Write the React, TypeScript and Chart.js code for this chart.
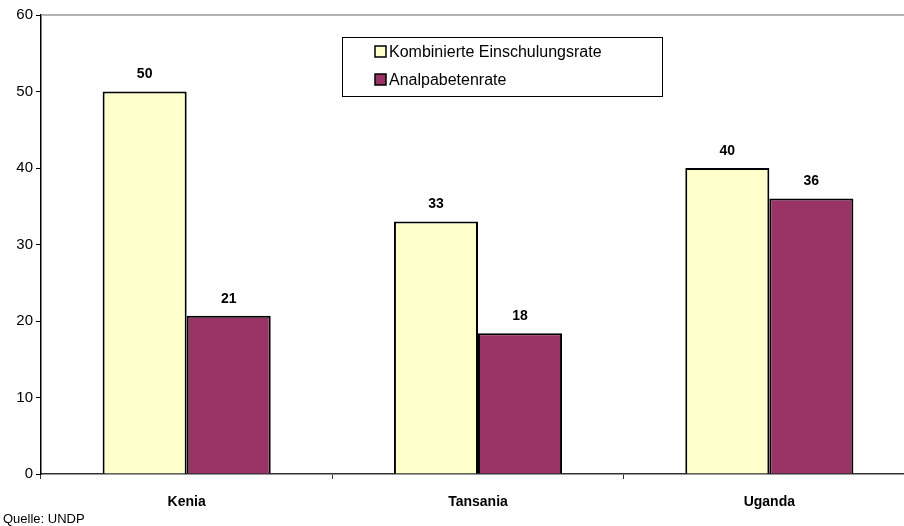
import React, { useEffect, useRef } from "react";
import { Chart, registerables } from "chart.js";

Chart.register(...registerables);

const categories = ["Kenia", "Tansania", "Uganda"];
const seriesNames = ["Kombinierte Einschulungsrate", "Analpabetenrate"];
const enrolment = [50, 33, 40];
const illiteracy = [20.7, 18.4, 36];
const seriesColors = ["#FFFFCC", "#993366"];
const yTicks = [0, 10, 20, 30, 40, 50, 60];
const sourceNote = "Quelle: UNDP";

const FONT = "'Liberation Sans', Arial, sans-serif";

const overlayPlugin = {
  id: "overlay",
  afterDraw(chart: any) {
    const ctx = chart.ctx;
    const ca = chart.chartArea;
    ctx.save();
    // top border line
    ctx.strokeStyle = "#999999";
    ctx.lineWidth = 1.5;
    ctx.beginPath();
    ctx.moveTo(ca.left, ca.top);
    ctx.lineTo(chart.width, ca.top);
    ctx.stroke();

    // data labels
    ctx.fillStyle = "#000";
    ctx.font = `bold 14px ${FONT}`;
    ctx.textAlign = "center";
    ctx.textBaseline = "middle";
    chart.data.datasets.forEach((ds: any, di: number) => {
      const meta = chart.getDatasetMeta(di);
      meta.data.forEach((el: any, i: number) => {
        ctx.fillText(String(Math.round(ds.data[i])), el.x, el.y - 17);
      });
    });

    // legend box
    ctx.fillStyle = "#fff";
    ctx.fillRect(342.5, 37.5, 320, 59);
    ctx.strokeStyle = "#000";
    ctx.lineWidth = 1;
    ctx.strokeRect(342.5, 37.5, 320, 59);
    chart.data.datasets.forEach((ds: any, di: number) => {
      const cy = 52 + di * 28;
      ctx.fillStyle = ds.backgroundColor;
      ctx.fillRect(375, cy - 6, 11, 11);
      ctx.strokeStyle = "#000";
      ctx.lineWidth = 1.5;
      ctx.strokeRect(375, cy - 6, 11, 11);
      ctx.fillStyle = "#000";
      ctx.font = `16px ${FONT}`;
      ctx.textAlign = "left";
      ctx.textBaseline = "middle";
      ctx.fillText(ds.label, 389, cy + 1);
    });

    // source note
    ctx.font = `13px ${FONT}`;
    ctx.textAlign = "left";
    ctx.textBaseline = "alphabetic";
    ctx.fillStyle = "#000";
    ctx.fillText(sourceNote, 3, 523);
    ctx.restore();
  },
};

export default function App() {
  const ref = useRef<HTMLCanvasElement>(null);
  useEffect(() => {
    if (!ref.current) return;
    const chart = new Chart(ref.current, {
      type: "bar",
      data: {
        labels: categories,
        datasets: [
          {
            label: seriesNames[0],
            data: enrolment,
            backgroundColor: seriesColors[0],
            borderColor: "#000",
            borderWidth: 2,
            categoryPercentage: 0.577,
            barPercentage: 1,
          },
          {
            label: seriesNames[1],
            data: illiteracy,
            backgroundColor: seriesColors[1],
            borderColor: "#000",
            borderWidth: 2,
            categoryPercentage: 0.577,
            barPercentage: 1,
          },
        ],
      },
      options: {
        responsive: false,
        animation: false,
        devicePixelRatio: 1,
        layout: { padding: { top: 15, right: 15, left: 0, bottom: 0 } },
        plugins: {
          legend: { display: false },
          tooltip: { enabled: false },
          title: { display: false },
        },
        scales: {
          x: {
            type: "category",
            grid: {
              display: true,
              drawOnChartArea: false,
              tickLength: 5,
              color: "#333",
              offset: true,
            },
            border: { color: "#333", width: 1.5 },
            ticks: {
              color: "#000",
              font: { family: FONT, size: 14, weight: "bold" },
              padding: 15,
              maxRotation: 0,
            },
            afterFit: (s: any) => {
              s.height = 52;
            },
          },
          y: {
            min: 0,
            max: 60,
            afterBuildTicks: (s: any) => {
              s.ticks = yTicks.map((v) => ({ value: v }));
            },
            grid: {
              display: true,
              drawOnChartArea: false,
              tickLength: 5,
              color: "#000",
            },
            border: { color: "#000", width: 1.5 },
            ticks: {
              color: "#000",
              font: { family: FONT, size: 15 },
              padding: 3,
            },
            afterFit: (s: any) => {
              s.width = 41;
            },
          },
        },
      },
      plugins: [overlayPlugin],
    });
    return () => chart.destroy();
  }, []);
  return (
    <div
      style={{
        position: "fixed",
        left: 0,
        top: 0,
        width: 904,
        height: 526,
        overflow: "hidden",
        background: "#fff",
      }}
    >
      <canvas ref={ref} width={930} height={526} style={{ width: 930, height: 526 }} />
    </div>
  );
}
